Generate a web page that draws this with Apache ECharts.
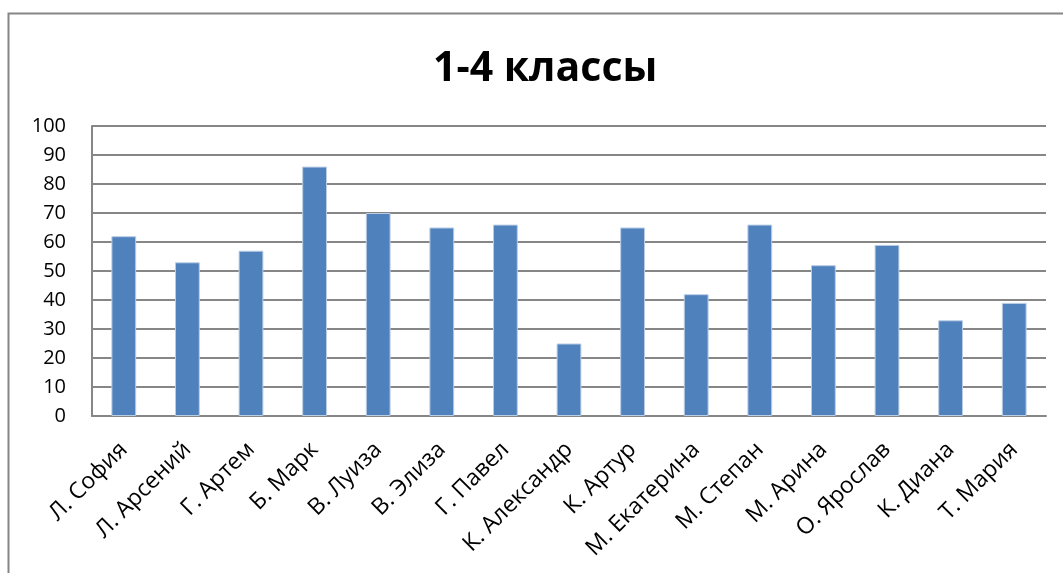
<!DOCTYPE html>
<html>
<head>
<meta charset="utf-8">
<script src="https://cdn.jsdelivr.net/npm/echarts@6/dist/echarts.min.js"></script>
<style>
  html, body { margin: 0; padding: 0; background: #fff; }
  #chart { width: 1063px; height: 573px; }
</style>
</head>
<body>
<div id="chart"></div>
<script>
// ученики и баллы
const names = ['Л. София', 'Л. Арсений', 'Г. Артем', 'Б. Марк', 'В. Луиза', 'В. Элиза', 'Г. Павел',
  'К. Александр', 'К. Артур', 'М. Екатерина', 'М. Степан', 'М. Арина', 'О. Ярослав', 'К. Диана', 'Т. Мария'];
const scores = [62, 53, 57, 86, 70, 65, 66, 25, 65, 42, 66, 52, 59, 33, 39];

const yMin = 0;
const yMax = 100;
const yStep = 10;

const font = '"Open Sans", "Liberation Sans", sans-serif';

let chart = echarts.init(document.getElementById('chart'));
chart.setOption({
  animation: false,
  backgroundColor: '#fff',
  graphic: [{
    type: 'rect',
    shape: { x: 8.5, y: 13.5, width: 1080, height: 600 },
    style: { fill: 'none', stroke: '#868686', lineWidth: 2 },
    silent: true
  }],
  title: {
    text: '1-4 классы',
    left: 428,
    top: 44,
    textStyle: { fontFamily: font, fontSize: 41, fontWeight: 'bold', color: '#000' }
  },
  grid: { left: 92, right: 17, top: 126, bottom: 157 },
  xAxis: {
    type: 'category',
    data: names,
    axisLine: { lineStyle: { color: '#868686', width: 2 } },
    axisTick: { show: false },
    axisLabel: {
      rotate: 45,
      interval: 0,
      margin: 30,
      color: '#000',
      fontFamily: font,
      fontSize: 23
    }
  },
  yAxis: {
    type: 'value',
    min: yMin,
    max: yMax,
    interval: yStep,
    axisLine: { show: true, lineStyle: { color: '#868686', width: 2 } },
    axisTick: { show: false },
    splitLine: { lineStyle: { color: '#868686', width: 2 } },
    axisLabel: { color: '#000', fontFamily: font, fontSize: 20, margin: 26 }
  },
  series: [{
    type: 'bar',
    data: scores,
    barWidth: '39%',
    itemStyle: { color: '#4F81BD', borderColor: '#B9CDE5', borderWidth: 1 }
  }]
});
window.addEventListener('resize', () => {
  chart.resize();
});
</script>
</body>
</html>
